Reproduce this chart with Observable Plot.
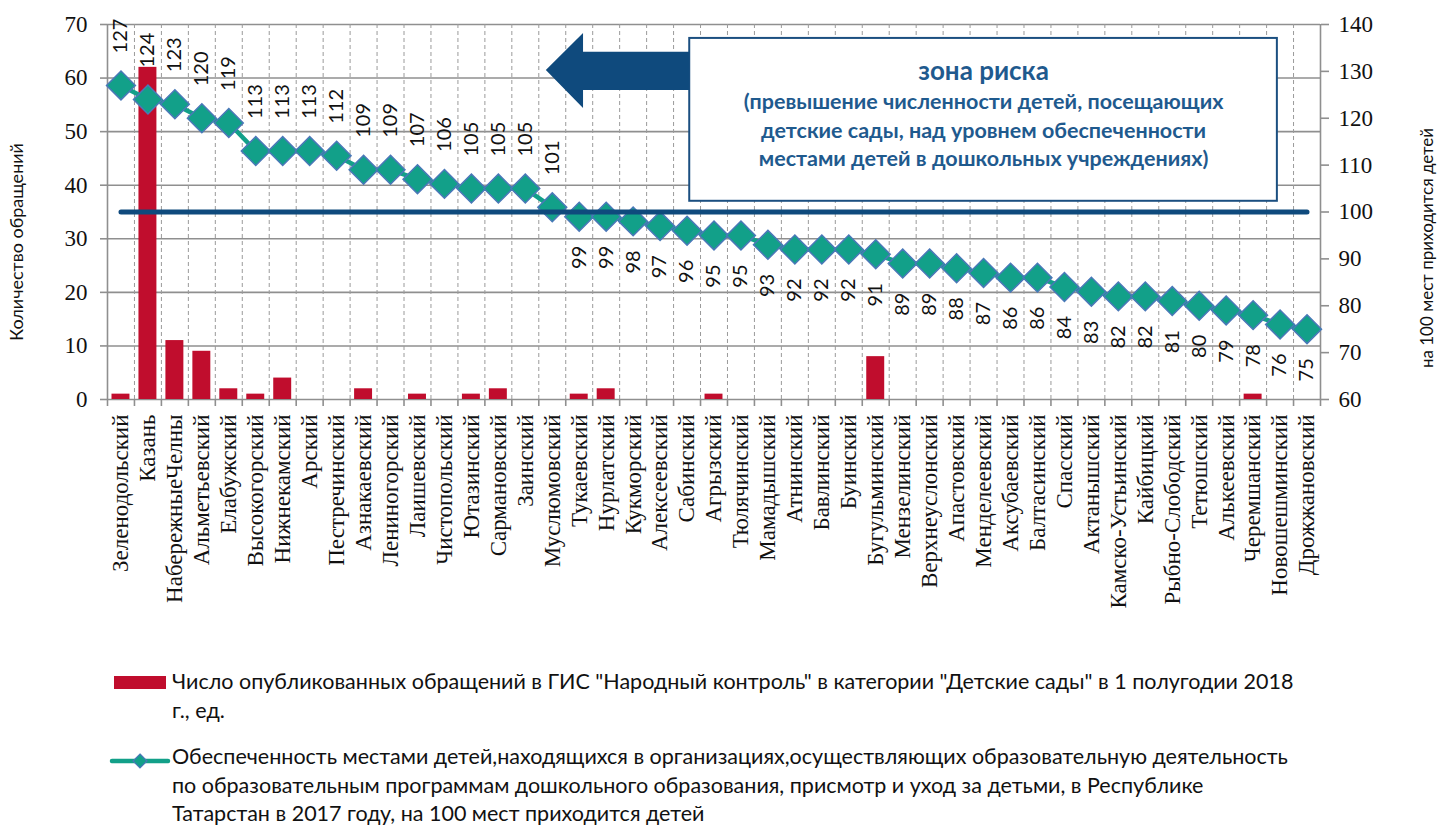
<!DOCTYPE html>
<html>
<head>
<meta charset="utf-8">
<script src="https://cdn.jsdelivr.net/npm/d3@7"></script>
<script src="https://cdn.jsdelivr.net/npm/@observablehq/plot@0.6"></script>
<style>
  html, body { margin: 0; padding: 0; background: #fff; }
  #wrap { position: relative; width: 1443px; height: 830px; overflow: hidden; background: #fff; }
  #chart { position: absolute; left: 0; top: 0; }
  .leg-text { position: absolute; font-family: Lato, "Open Sans", sans-serif; font-size: 21.5px; line-height: 28.5px; color: #111; white-space: nowrap; }
  .serif-ticks text { font-family: 'Liberation Serif', 'Times New Roman', serif !important; font-size: 23px !important; }
</style>
</head>
<body>
<div id="wrap">
  <div id="chart"></div>
  <div id="legend"></div>
</div>
<script>
// ---------- DATA ----------
const districts = [
  "Зеленодольский","Казань","НабережныеЧелны","Альметьевский","Елабужский","Высокогорский",
  "Нижнекамский","Арский","Пестречинский","Азнакаевский","Лениногорский","Лаишевский",
  "Чистопольский","Ютазинский","Сармановский","Заинский","Муслюмовский","Тукаевский",
  "Нурлатский","Кукморский","Алексеевский","Сабинский","Агрызский","Тюлячинский",
  "Мамадышский","Атнинский","Бавлинский","Буинский","Бугульминский","Мензелинский",
  "Верхнеуслонский","Апастовский","Менделеевский","Аксубаевский","Балтасинский","Спасский",
  "Актанышский","Камско-Устьинский","Кайбицкий","Рыбно-Слободский","Тетюшский","Алькеевский",
  "Черемшанский","Новошешминский","Дрожжановский"
];
// Число опубликованных обращений (left axis)
const requests = [
  1,62,11,9,2,1,4,0,0,2,0,1,0,1,2,0,0,1,2,0,0,0,1,0,0,0,0,0,8,0,0,0,0,0,0,0,0,0,0,0,0,0,1,0,0
];
// Обеспеченность местами, на 100 мест приходится детей (right axis)
const coverage = [
  127,124,123,120,119,113,113,113,112,109,109,107,106,105,105,105,101,99,99,98,97,96,95,95,93,
  92,92,92,91,89,89,88,87,86,86,84,83,82,82,81,80,79,78,76,75
];
const riskLevel = 100;
const leftTicks = [0,10,20,30,40,50,60,70];
const rightTicks = [60,70,80,90,100,110,120,130,140];

const leftTitle = "Количество обращений";
const rightTitle = "на 100 мест приходится детей";
const boxTitle = "зона риска";
const boxLines = [
  "(превышение численности детей, посещающих",
  "детские сады, над уровнем обеспеченности",
  "местами детей в дошкольных учреждениях)"
];
const legendBars = "Число опубликованных обращений в ГИС \"Народный контроль\" в категории \"Детские сады\" в 1 полугодии 2018<br>г., ед.";
const legendLine = "Обеспеченность местами детей,находящихся в организациях,осуществляющих образовательную деятельность<br>по образовательным программам дошкольного образования, присмотр и уход за детьми, в Республике<br>Татарстан в 2017 году, на 100 мест приходится детей";

// ---------- SCALES (secondary axis mapping) ----------
const L0 = 0, L1 = 70, R0 = 60, R1 = 140;
const toLeft = v => (v - R0) * (L1 - L0) / (R1 - R0) + L0;
const fromLeft = v => (v - L0) * (R1 - R0) / (L1 - L0) + R0;

const rows = districts.map((name, i) => ({
  i, name, xc: i + 0.5, req: requests[i], cov: coverage[i], covL: toLeft(coverage[i])
}));
const above = rows.filter(d => d.cov > riskLevel);
const below = rows.filter(d => d.cov <= riskLevel);
const thresholdRows = [rows[0], rows[rows.length - 1]].map(d => ({x: d.xc, y: toLeft(riskLevel)}));

// annotation (in chart data units)
const riskZone = {x1: 21.6, x2: 43.4, y1: 37.0, y2: 67.4};
const boxText = [
  {x: (riskZone.x1 + riskZone.x2) / 2, y: 61.2, text: boxTitle, title: true},
  ...boxLines.map((t, k) => ({x: (riskZone.x1 + riskZone.x2) / 2, y: 55.6 - k * 5.41, text: t, title: false}))
];
const arrowShape = {tipX: 16.28, headX: 17.66, endX: 21.6, tipY: 61.4, headTop: 68.3, headBottom: 54.3, shaftTop: 64.8, shaftBottom: 57.7};

// ---------- STYLE ----------
const red = "#C00D2D";
const teal = "#12A089";
const navy = "#0F4A7D";
const boxBlue = "#1F5A8E";
const grid = "#8F8F8F";
const serif = "'Liberation Serif', 'Times New Roman', serif";
const sans = "Lato, 'Open Sans', sans-serif";

const chart = Plot.plot({
  width: 1443,
  height: 640,
  marginLeft: 107,
  marginRight: 123,
  marginTop: 24,
  marginBottom: 241,
  style: {background: "white", fontFamily: sans, overflow: "visible"},
  x: {type: "linear", domain: [0, districts.length], axis: null},
  y: {domain: [L0, L1], axis: null},
  marks: [
    Plot.ruleY(leftTicks, {stroke: grid, strokeWidth: 1.6}),
    Plot.ruleX(d3.range(1, districts.length), {stroke: "#9A9A9A", strokeWidth: 1, strokeDasharray: "4,3"}),
    Plot.ruleX([0, districts.length], {stroke: grid, strokeWidth: 1.6}),
    Plot.axisY({ticks: leftTicks, tickSize: 7, tickPadding: 13, stroke: grid, strokeWidth: 1.6,
      fontFamily: serif, fontSize: 23, fill: "#111", label: null, tickFormat: d => String(d), className: "serif-ticks"}),
    Plot.axisY({anchor: "right", ticks: rightTicks.map(toLeft), tickSize: 8, tickPadding: 10, stroke: grid, strokeWidth: 1.6,
      fontFamily: serif, fontSize: 23, fill: "#111", label: null, tickFormat: d => String(Math.round(fromLeft(d))), className: "serif-ticks"}),
    Plot.axisX({ticks: d3.range(0, districts.length + 1), tickSize: 7, stroke: grid, strokeWidth: 1.6, tickFormat: () => "", label: null}),
    Plot.axisX({ticks: rows.map(d => d.xc), tickSize: 0, tickPadding: 15, tickRotate: -90,
      tickFormat: d => districts[Math.floor(d)], fontFamily: serif, fontSize: 23, fill: "#111", label: null}),
    Plot.rectY(rows.filter(d => d.req > 0), {x1: d => d.i, x2: d => d.i + 1, y: "req", fill: red, insetLeft: 4.5, insetRight: 4.5}),
    Plot.line(rows, {x: "xc", y: "covL", stroke: teal, strokeWidth: 4.5}),
    Plot.dot(rows, {x: "xc", y: "covL", symbol: "diamond2", r: 13, fill: teal, stroke: "#4A78B8", strokeWidth: 1.5}),
    Plot.line(thresholdRows, {x: "x", y: "y", stroke: navy, strokeWidth: 5, strokeLinecap: "round"}),
    Plot.text(above, {x: "xc", y: "covL", text: d => String(d.cov), rotate: -90, textAnchor: "start", dy: -32,
      fontFamily: sans, fontSize: 20, fill: "#111"}),
    Plot.text(below, {x: "xc", y: "covL", text: d => String(d.cov), rotate: -90, textAnchor: "end", dy: 29,
      fontFamily: sans, fontSize: 20, fill: "#111"}),
    Plot.text([leftTitle], {frameAnchor: "left", rotate: -90, textAnchor: "middle", dx: -90, dy: 30,
      fontFamily: sans, fontSize: 18, fill: "#111"}),
    Plot.text([rightTitle], {frameAnchor: "right", rotate: -90, textAnchor: "middle", dx: 107, dy: 36,
      fontFamily: sans, fontSize: 17, fill: "#111"}),
    Plot.rect([riskZone], {x1: "x1", x2: "x2", y1: "y1", y2: "y2", fill: "white", stroke: "#1B4F80", strokeWidth: 2}),
    Plot.text(boxText.filter(d => d.title), {x: "x", y: "y", text: "text", fill: boxBlue, fontWeight: "bold", fontSize: 26, fontFamily: sans}),
    Plot.text(boxText.filter(d => !d.title), {x: "x", y: "y", text: "text", fill: boxBlue, fontWeight: "bold", fontSize: 21.5, fontFamily: sans})
  ]
});

// enforce serif tick label font on every axis text
d3.select(chart).selectAll('[aria-label$="tick label"] text')
  .style("font-family", serif).style("font-size", "23px");

// arrow drawn through the chart's own scales
{
  const sx = chart.scale("x"), sy = chart.scale("y");
  const a = arrowShape;
  const pts = [
    [a.tipX, a.tipY], [a.headX, a.headTop], [a.headX, a.shaftTop], [a.endX, a.shaftTop],
    [a.endX, a.shaftBottom], [a.headX, a.shaftBottom], [a.headX, a.headBottom]
  ].map(([x, y]) => [sx.apply(x), sy.apply(y)]);
  d3.select(chart).append("polygon")
    .attr("points", pts.map(p => p.join(",")).join(" "))
    .attr("fill", navy);
}

document.getElementById("chart").appendChild(chart);

// ---------- LEGEND (below the SVG) ----------
const legend = document.getElementById("legend");
legend.innerHTML = `
  <div style="position:absolute;left:114px;top:676px;width:52px;height:13px;background:${red}"></div>
  <div class="leg-text" style="left:172px;top:667px">${legendBars}</div>
  <svg style="position:absolute;left:108px;top:752px" width="64" height="18">
    <line x1="4" y1="9" x2="60" y2="9" stroke="${teal}" stroke-width="4.5" stroke-linecap="round"/>
    <polygon points="32,2 39,9 32,16 25,9" fill="${teal}" stroke="#4A78B8" stroke-width="1.2"/>
  </svg>
  <div class="leg-text" style="left:172px;top:742px">${legendLine}</div>
`;
</script>
</body>
</html>
